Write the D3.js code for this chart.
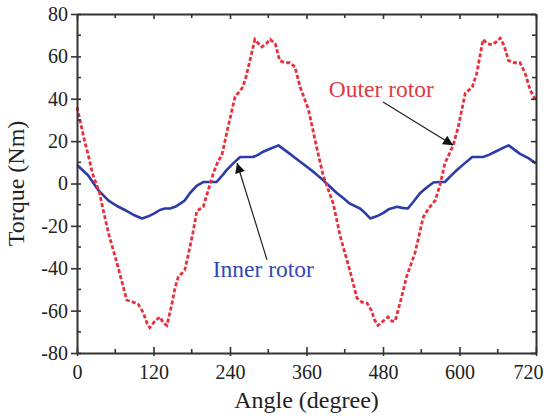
<!DOCTYPE html>
<html><head><meta charset="utf-8">
<script src="https://cdn.jsdelivr.net/npm/d3@7/dist/d3.min.js"></script>
<style>body{margin:0;background:#fff}svg{display:block}</style>
</head><body>
<svg id="chart" width="546" height="417"></svg>
<script>
const outerAngle = [0,6,12,18,24,30,35,40,49,64,78,88,96,104,110,114,122,130,136,141,148,154,159,169,175,182,188,198,206,214,222,227,235,248,259,264,274,279,285,290,297,303,311,318,326,334,342,350,363,376,386,402,413,428,439,447,455,462,467,472,480,488,494,499,508,517,530,537,543,551,562,570,577,584,590,598,609,620,627,632,637,644,651,658,664,670,677,686,695,703,711,720];
const outerTorque = [36,28,20,13,5,0,-4,-11,-23,-39,-55,-56,-57,-61,-66,-68,-65,-63,-66,-67,-58,-49,-44,-41,-33,-23,-13,-11,-3,5,11,13,24,41,45,49,61.5,68,66,64.5,66,68,66,58,57,57,55,45.5,35,17,4,-9.5,-25,-41,-54,-56,-56.5,-60,-64.5,-67,-65,-63,-65,-65,-55,-44,-33,-24,-16,-12,-8,0,9.5,14,18,26.6,42.6,45.5,52,60,68,66,65.5,67,68.6,65,58,57,57,52,44,39];
const innerAngle = [0,17,33,49,62,75,90,102,112,122,130,138,146,154,162,169,177,188,198,208,219,227,235,245,256,266,276,284,292,304,316,325,334,347,360,373,386,397,408,418,428,444,452,460,470,480,490,502,510,519,528,538,548,559,568,577,586,596,608,620,637,646,656,666,677,686,695,708,720];
const innerTorque = [8.7,4,-3,-8,-10.5,-12.5,-15,-16.5,-15.5,-14,-12.5,-11.8,-11.8,-11,-9.5,-8,-4.6,-1,0.7,0.7,0.7,3.5,6.4,9.5,12.5,12.5,12.5,13.5,15,16.5,18,16,14,11,8,5,1.6,-1.5,-4.6,-7,-9.5,-11.8,-14,-16.5,-15.5,-14,-12,-11,-11.5,-11.8,-8.5,-4.6,-2,0.5,0.7,0.7,3.5,6.4,9.5,12.5,12.5,13.5,15,16.5,18,16,14,12,9.5];
const xTicks = [0,120,240,360,480,600,720];
const yTicks = [-80,-60,-40,-20,0,20,40,60,80];
const xTitle = "Angle (degree)";
const yTitle = "Torque (Nm)";
const outerLabel = "Outer rotor";
const innerLabel = "Inner rotor";

const svg = d3.select("#chart");
const L = 77, R = 536, T = 14, B = 353;
const x = d3.scaleLinear().domain([0,720]).range([L,R]);
const y = d3.scaleLinear().domain([-80,80]).range([B,T]);
const font = "'Liberation Serif','Times New Roman',serif";
const axisCol = "#333";
const fmt = d => String(d);

svg.append("defs").append("marker")
  .attr("id","arr").attr("viewBox","0 0 10 10").attr("refX",10).attr("refY",5)
  .attr("markerWidth",14).attr("markerHeight",10).attr("markerUnits","userSpaceOnUse")
  .attr("orient","auto")
  .append("path").attr("d","M0,0 L10,5 L0,10 Z").attr("fill","#111");

const line = d3.line().x(d=>x(d[0])).y(d=>y(d[1]));
svg.append("path").datum(innerAngle.map((a,i)=>[a,innerTorque[i]]))
  .attr("d",line).attr("fill","none").attr("stroke","#2b3ca8").attr("stroke-width",2.6)
  .attr("stroke-linejoin","round");
svg.append("path").datum(outerAngle.map((a,i)=>[a,outerTorque[i]]))
  .attr("d",line).attr("fill","none").attr("stroke","#e8303c").attr("stroke-width",2.8)
  .attr("stroke-dasharray","4,2.2");

const g = svg.append("g");
const axB = d3.axisBottom(x).tickValues(xTicks).tickFormat(fmt).tickSizeInner(-6).tickSizeOuter(0).tickPadding(12);
const gb = g.append("g").attr("transform",`translate(0,${B})`).call(axB);
const axL = d3.axisLeft(y).tickValues(yTicks).tickFormat(fmt).tickSizeInner(5).tickSizeOuter(0).tickPadding(4);
const gl = g.append("g").attr("transform",`translate(${L},0)`).call(axL);
const axT = d3.axisTop(x).tickValues(xTicks).tickSizeInner(-5).tickSizeOuter(0).tickFormat("");
const gt = g.append("g").attr("transform",`translate(0,${T})`).call(axT);
const axR = d3.axisRight(y).tickValues(yTicks).tickSizeInner(-5).tickSizeOuter(0).tickFormat("");
const gr = g.append("g").attr("transform",`translate(${R},0)`).call(axR);
gb.selectAll(".tick line").attr("y1",3);
gl.selectAll(".tick line").attr("x2",-6).attr("x1",4);
[gb,gl,gt,gr].forEach(a=>{
  a.attr("font-family",font);
  a.select(".domain").attr("stroke",axisCol).attr("stroke-width",2);
  a.selectAll(".tick line").attr("stroke",axisCol).attr("stroke-width",1.6);
  a.selectAll("text").style("font-family",font).style("font-size","20px").attr("fill","#222");
});
gb.selectAll("text").attr("dy","0.71em");
gb.selectAll(".tick").filter(d=>d===720).select("text").attr("text-anchor","end").attr("x",7);
const xMinor = xTicks.slice(0,-1).map((v,i)=>(v+xTicks[i+1])/2);
const yMinor = yTicks.slice(0,-1).map((v,i)=>(v+yTicks[i+1])/2);
xMinor.forEach(v=>{
  g.append("line").attr("x1",x(v)).attr("x2",x(v)).attr("y1",B).attr("y2",B-4).attr("stroke",axisCol).attr("stroke-width",1.6);
  g.append("line").attr("x1",x(v)).attr("x2",x(v)).attr("y1",T).attr("y2",T+4).attr("stroke",axisCol).attr("stroke-width",1.6);
});
yMinor.forEach(v=>{
  g.append("line").attr("x1",L).attr("x2",L+4).attr("y1",y(v)).attr("y2",y(v)).attr("stroke",axisCol).attr("stroke-width",1.6);
  g.append("line").attr("x1",R).attr("x2",R-4).attr("y1",y(v)).attr("y2",y(v)).attr("stroke",axisCol).attr("stroke-width",1.6);
});

svg.append("text").attr("x",(L+R)/2).attr("y",408).attr("text-anchor","middle")
  .style("font-family",font).style("font-size","24px").attr("fill","#222").text(xTitle);
svg.append("text").attr("transform",`translate(24,${(T+B)/2}) rotate(-90)`).attr("text-anchor","middle")
  .style("font-family",font).style("font-size","24px").attr("fill","#222").text(yTitle);

svg.append("line").attr("x1",x(298)).attr("y1",y(-36)).attr("x2",x(251)).attr("y2",y(9.7))
  .attr("stroke","#222").attr("stroke-width",1.2).attr("marker-end","url(#arr)");
svg.append("line").attr("x1",x(480)).attr("y1",y(38.5)).attr("x2",x(590)).attr("y2",y(18))
  .attr("stroke","#222").attr("stroke-width",1.2).attr("marker-end","url(#arr)");
svg.append("text").attr("x",x(213)).attr("y",y(-44)).style("font-family",font).style("font-size","23.5px")
  .attr("fill","#3448b8").text(innerLabel);
svg.append("text").attr("x",x(395)).attr("y",y(41)).style("font-family",font).style("font-size","23.5px")
  .attr("fill","#e03a46").text(outerLabel);
</script>
</body></html>
